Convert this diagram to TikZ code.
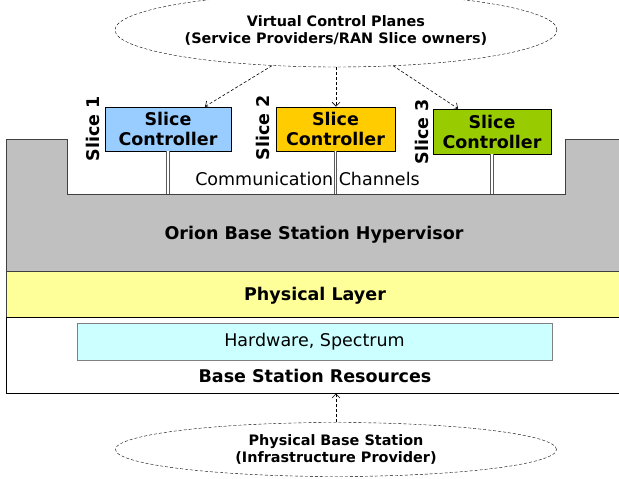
\documentclass[tikz,border=0pt]{standalone}
\usepackage{fontspec}
\setmainfont{DejaVu Sans}
\usetikzlibrary{calc,shapes.geometric,arrows.meta}
\definecolor{hypgray}{HTML}{C0C0C0}
\definecolor{edgegray}{HTML}{404040}
\definecolor{phyyellow}{HTML}{FFFF99}
\definecolor{hwcyan}{HTML}{CCFFFF}
\definecolor{sliceblue}{HTML}{99CCFF}
\definecolor{sliceorange}{HTML}{FFCC00}
\definecolor{slicegreen}{HTML}{99CC00}

\begin{document}
\begin{tikzpicture}[x=1pt,y=-1pt,
    >={Straight Barb[length=4pt,width=8pt]},
    every node/.style={font=\fontsize{17.5}{20}\selectfont},
    ctrl/.style={draw, line width=0.8pt, align=center, inner sep=0pt, minimum height=44pt, font=\fontsize{17.5}{20}\selectfont\bfseries},
    slicelbl/.style={rotate=90, inner sep=0pt, font=\fontsize{17.5}{20}\selectfont\bfseries},
    owner/.style={draw, dashed, dash pattern=on 3pt off 2pt, ellipse, align=center, inner sep=0pt, font=\fontsize{14.4}{17}\selectfont\bfseries},
    layer/.style={font=\fontsize{17.5}{20}\selectfont\bfseries},
    chan/.style={draw=gray!70!black, double=white, double distance=1.2pt, line width=1pt},
    ctl/.style={->, dashed, dash pattern=on 3pt off 2pt, line width=0.6pt}]
            \useasboundingbox (0,0) rectangle (619,479);
            % layers of the base station
            \draw [edgegray, fill=hypgray, line width=0.8pt] (6,139.5) -- (67,139.5) -- (67,194) -- (565,194) -- (565,139.5) -- (625,139.5) -- (625,271) -- (6,271) -- cycle;
            \draw [edgegray, fill=phyyellow, line width=0.8pt] (6,271) rectangle (625,317);
            \draw [black, fill=white, line width=0.8pt] (6,317) rectangle (625,393);
            \node (hw) at (314.5,341.5) [draw=gray, fill=hwcyan, minimum width=475pt, minimum height=37pt, inner sep=0pt] {Hardware, Spectrum};
            \node (hyp) at (314,234.5) [layer] {Orion Base Station Hypervisor};
            \node (phy) at (315,295.5) [layer] {Physical Layer};
            \node (res) at (315,376) [layer] {Base Station Resources};
            \node (comm) at (307.5,179) {Communication Channels};
            % slice controllers
            \node (sc1) at (168,129) [ctrl, fill=sliceblue, minimum width=126pt] {Slice\\Controller};
            \node (sc2) at (335.5,129) [ctrl, fill=sliceorange, minimum width=119pt] {Slice\\Controller};
            \node (sc3) at (492,131.5) [ctrl, fill=slicegreen, minimum width=118pt, minimum height=45pt] {Slice\\Controller};
            \node (l1) at ($(sc1.west)+(-11.5,-0.5)$) [slicelbl] {Slice 1};
            \node (l2) at ($(sc2.west)+(-12.5,-1)$) [slicelbl] {Slice 2};
            \node (l3) at ($(sc3.west)+(-11,0)$) [slicelbl] {Slice 3};
            \coordinate (floor) at (0,194);
            \draw [chan] (sc1.south) -- (sc1.south |- floor);
            \draw [chan] (sc2.south) -- (sc2.south |- floor);
            \draw [chan] (sc3.south) -- (sc3.south |- floor);
            % owners
            \node (vcp) at (336,30) [owner, minimum width=442pt, minimum height=74pt] {Virtual Control Planes\\(Service Providers/RAN Slice owners)};
            \node (pbs) at (336,449.5) [owner, minimum width=441pt, minimum height=54pt] {Physical Base Station\\(Infrastructure Provider)};
            \draw [ctl] ($(vcp.south)+(-64,-1.5)$) -- ($(sc1.north)+(37,0)$);
            \draw [ctl] (vcp.south) -- (vcp.south |- sc2.north);
            \draw [ctl] ($(vcp.south)+(57,-1.5)$) -- ($(sc3.north)+(-34,0)$);
            \draw [ctl] (pbs.north) -- (pbs.north |- 0,393.5);
        \end{tikzpicture}
\end{document}
